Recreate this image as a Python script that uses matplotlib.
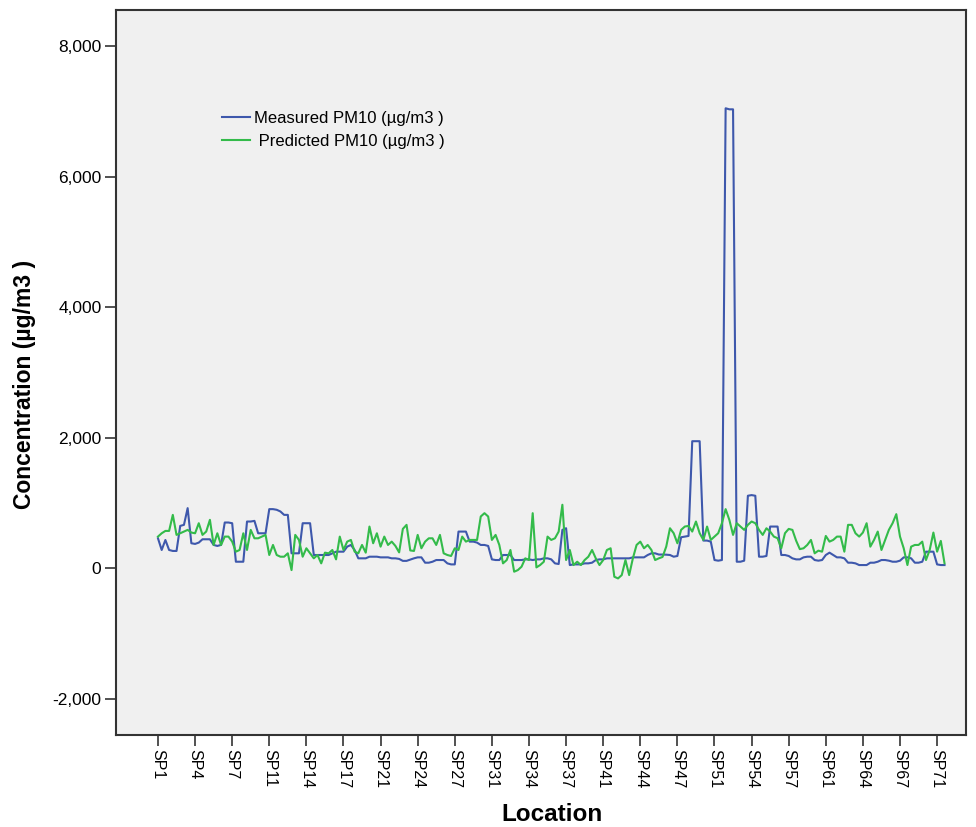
import numpy as np
import matplotlib
matplotlib.use("Agg")
import matplotlib.pyplot as plt
from matplotlib.ticker import FuncFormatter

plt.rcParams['font.family'] = ['Liberation Sans', 'DejaVu Sans']

# 71 sampling points, 3 readings each
sites = ["SP%d" % k for k in range(1, 72)]
location = [s for s in sites for _ in range(3)]

measured = [
    456, 277, 430, 277, 262, 262, 646, 662, 918, 380,
    370, 390, 441, 441, 441, 354, 339, 354, 698, 698,
    687, 97, 97, 97, 713, 713, 723, 533, 533, 533,
    903, 903, 893, 867, 815, 815, 226, 226, 226, 687,
    687, 687, 200, 200, 200, 200, 200, 226, 251, 251,
    251, 328, 354, 277, 149, 149, 149, 174, 174, 174,
    164, 164, 164, 149, 149, 140, 110, 110, 130, 149,
    164, 164, 82, 82, 97, 123, 123, 123, 72, 56,
    56, 559, 559, 559, 405, 405, 390, 354, 354, 339,
    133, 123, 123, 200, 200, 200, 123, 123, 123, 133,
    133, 123, 133, 133, 149, 149, 133, 72, 62, 585,
    610, 46, 56, 56, 56, 72, 72, 82, 123, 133,
    133, 149, 149, 149, 149, 149, 149, 149, 164, 164,
    164, 164, 200, 226, 226, 207, 207, 205, 200, 174,
    185, 472, 482, 492, 1944, 1944, 1944, 421, 421, 405,
    123, 113, 123, 7046, 7030, 7030, 97, 97, 113, 1108,
    1118, 1108, 174, 174, 185, 636, 636, 636, 200, 200,
    185, 149, 133, 133, 164, 174, 174, 123, 113, 123,
    200, 236, 200, 164, 164, 149, 82, 82, 72, 46,
    46, 46, 82, 82, 97, 123, 123, 113, 97, 97,
    113, 164, 164, 149, 82, 82, 97, 251, 251, 251,
    56, 46, 46,
]

predicted = [
    482, 533, 569, 569, 815, 508, 533, 559, 585, 544,
    533, 687, 508, 559, 739, 354, 533, 354, 482, 482,
    405, 251, 277, 533, 277, 585, 456, 456, 482, 508,
    200, 354, 200, 174, 174, 226, -31, 508, 431, 174,
    303, 226, 149, 200, 72, 236, 226, 277, 133, 482,
    277, 405, 431, 251, 226, 354, 236, 636, 380, 533,
    328, 482, 354, 405, 339, 240, 600, 662, 270, 262,
    508, 303, 405, 456, 456, 354, 508, 226, 200, 185,
    303, 277, 482, 405, 431, 431, 431, 790, 841, 790,
    431, 508, 354, 72, 123, 277, -56, -31, 21, 149,
    123, 841, 10, 46, 97, 482, 431, 456, 559, 970,
    123, 277, 46, 97, 46, 123, 174, 277, 149, 46,
    123, 277, 303, -133, -159, -108, 123, -108, 149, 354,
    405, 303, 354, 277, 123, 149, 170, 330, 610, 534,
    380, 585, 636, 646, 559, 713, 534, 431, 636, 431,
    482, 534, 687, 903, 739, 508, 687, 636, 585, 662,
    713, 687, 585, 508, 610, 559, 482, 457, 303, 534,
    600, 585, 420, 290, 303, 354, 431, 226, 267, 251,
    492, 405, 431, 482, 482, 251, 662, 662, 533, 482,
    544, 687, 328, 431, 559, 277, 431, 585, 687, 826,
    482, 303, 46, 328, 354, 354, 405, 123, 277, 544,
    251, 416, 72,
]

yticks = [-2000, 0, 2000, 4000, 6000, 8000]

x = np.arange(len(location))

fig = plt.figure(figsize=(9.76, 8.27), dpi=100)
ax = fig.add_axes([0.1189, 0.1112, 0.9898 - 0.1189, 0.9879 - 0.1112])
ax.set_facecolor('#f0f0f0')

ax.plot(x, measured, color='#3e58ac', lw=1.5, label='Measured PM10 (\u00b5g/m3 )')
ax.plot(x, predicted, color='#33bb4a', lw=1.5, label=' Predicted PM10 (\u00b5g/m3 )')

ax.set_xlim(-11.3, 217.8)
ax.set_ylim(-2559, 8552)

ax.set_yticks(yticks)
ax.yaxis.set_major_formatter(FuncFormatter(lambda v, p: "{:,.0f}".format(v)))
ax.set_xticks(x[::10])
ax.set_xticklabels([location[i] for i in x[::10]], rotation=-90, va='top', ha='center')

ax.tick_params(axis='y', labelsize=12.5, length=8, width=1.2, color='#333333', pad=2.5)
ax.tick_params(axis='x', labelsize=11.5, length=8, width=1.2, color='#333333', pad=2)

for sp in ax.spines.values():
    sp.set_color('#333333')
    sp.set_linewidth(1.5)

ax.set_ylabel('Concentration (\u00b5g/m3 )', fontsize=16.5, fontweight='bold')
ax.yaxis.set_label_coords(-0.108, 0.484)
ax.set_xlabel('Location', fontsize=17.5, fontweight='bold')
ax.xaxis.set_label_coords(0.513, -0.109)
ax.xaxis.label.set_va('center')
ax.yaxis.label.set_va('center')

leg = ax.legend(loc='upper left', bbox_to_anchor=(0.1247, 0.861), frameon=False,
                fontsize=12, handlelength=1.7, handletextpad=0.2, labelspacing=0.5,
                borderpad=0, borderaxespad=0)

fig.savefig('out.png', dpi=100)
